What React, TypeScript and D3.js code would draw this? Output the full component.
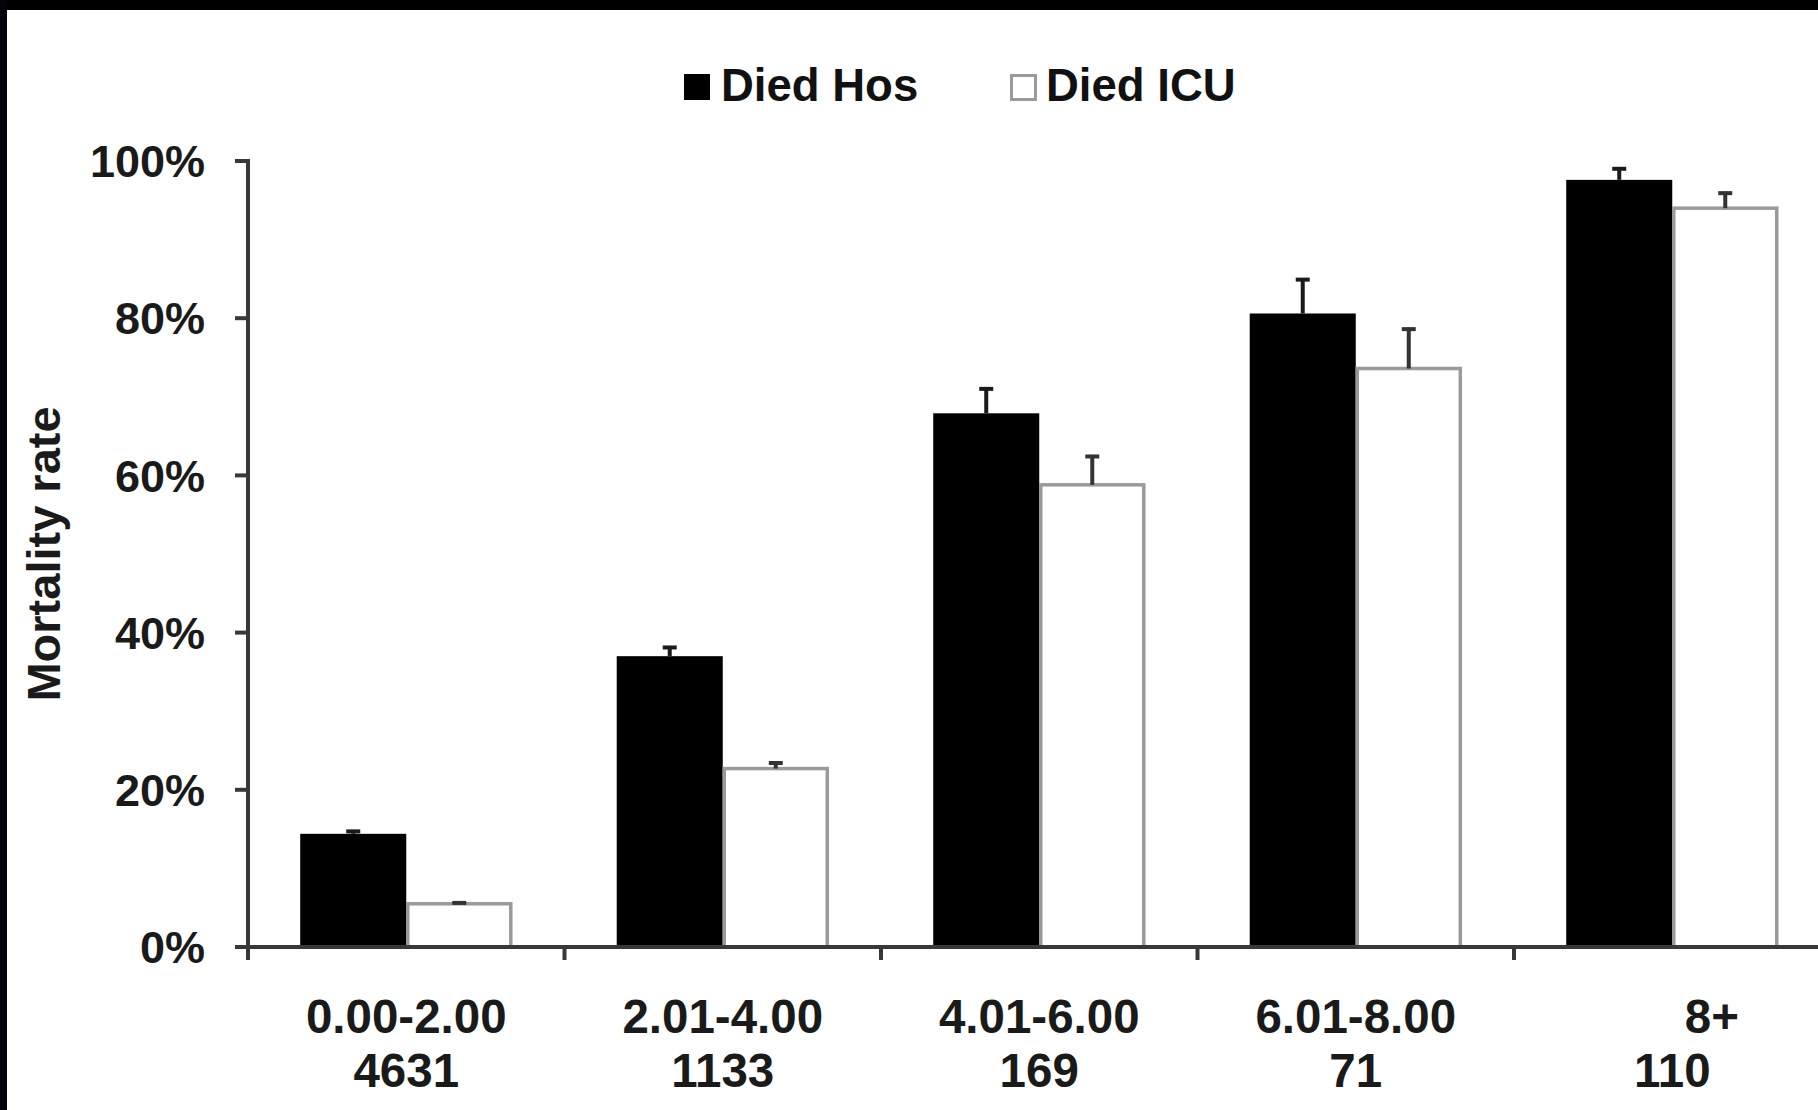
import React from "react";
import * as d3 from "d3";

// Score bands and the number of patients in each band
const bandLabels = ["0.00-2.00", "2.01-4.00", "4.01-6.00", "6.01-8.00", "\u00a0\u00a0\u00a0\u00a0\u00a0\u00a08+"];
const bandCounts = ["4631", "1133", "169", "71", "110"];

// Mortality rates (%) and upper error bar lengths (%)
const diedHos = [14.4, 37.0, 67.9, 80.6, 97.6];
const diedHosErr = [0.5, 1.3, 3.3, 4.5, 1.6];
const diedIcu = [5.5, 22.7, 58.8, 73.6, 94.0];
const diedIcuErr = [0.3, 0.9, 3.8, 5.2, 2.1];

const seriesNames = ["Died Hos", "Died ICU"];
const yTicks = [0, 20, 40, 60, 80, 100];

const W = 1818;
const H = 1110;
const FONT = "'Liberation Sans', Arial, sans-serif";

export default function App() {
  const x0 = d3.scaleBand<number>().domain(d3.range(bandLabels.length)).range([248, 1830.5]).padding(0);
  const groupW = x0.bandwidth() * 0.67;
  const x1 = d3.scaleBand<string>().domain(seriesNames).range([0, groupW]).padding(0);
  const y = d3.scaleLinear().domain([0, 100]).range([947, 161]);

  const series = [
    { name: seriesNames[0], values: diedHos, errs: diedHosErr, fill: "#000", stroke: "#222", errColor: "#1a1a1a" },
    { name: seriesNames[1], values: diedIcu, errs: diedIcuErr, fill: "#fff", stroke: "#9a9a9a", errColor: "#333" },
  ];

  const axisColor = "#383838";
  const axisX0 = 248;

  return (
    <svg width={W} height={H} style={{ position: "absolute", left: 0, top: 0, background: "#fff" }} fontFamily={FONT}>
      <rect x={0} y={0} width={W} height={H} fill="#fff" />
      {/* frame edges */}
      <rect x={0} y={0} width={W} height={10} fill="#000" />
      <rect x={0} y={0} width={7} height={H} fill="#03030e" />

      {/* legend */}
      <g fontWeight="bold" fontSize={45.5} fill="#111">
        <rect x={684} y={74} width={26} height={26} fill="#000" />
        <text x={721} y={101}>{seriesNames[0]}</text>
        <rect x={1011.5} y={75.5} width={24} height={24} fill="#fff" stroke="#9a9a9a" strokeWidth={3} />
        <text x={1046} y={101}>{seriesNames[1]}</text>
      </g>

      {/* bars */}
      {series.map((s) =>
        s.values.map((v, i) => {
          const bx = (x0(i) as number) + (x0.bandwidth() - groupW) / 2 + (x1(s.name) as number);
          const bw = x1.bandwidth();
          const isWhite = s.fill === "#fff";
          return (
            <rect
              key={s.name + i}
              x={bx + (isWhite ? 1.5 : 0)}
              y={y(v)}
              width={bw - (isWhite ? 3 : 0)}
              height={y(0) - y(v)}
              fill={s.fill}
              stroke={isWhite ? s.stroke : "none"}
              strokeWidth={isWhite ? 3.5 : 0}
            />
          );
        })
      )}

      {/* error bars (upper only) */}
      {series.map((s) =>
        s.values.map((v, i) => {
          const cx = (x0(i) as number) + (x0.bandwidth() - groupW) / 2 + (x1(s.name) as number) + x1.bandwidth() / 2;
          const top = y(v + s.errs[i]);
          return (
            <g key={"e" + s.name + i}>
              <line x1={cx} x2={cx} y1={y(v)} y2={top} stroke={s.errColor} strokeWidth={4} />
              <line x1={cx - 7} x2={cx + 7} y1={top + 1.5} y2={top + 1.5} stroke={s.errColor} strokeWidth={4} />
            </g>
          );
        })
      )}

      {/* y axis */}
      <line x1={axisX0} x2={axisX0} y1={y(100) - 2} y2={960} stroke={axisColor} strokeWidth={4} />
      {yTicks.map((t) => (
        <g key={"yt" + t}>
          <line x1={235} x2={axisX0} y1={y(t)} y2={y(t)} stroke={axisColor} strokeWidth={4} />
          <text x={205} y={y(t)} dy="0.36em" textAnchor="end" fontWeight="bold" fontSize={45} fill="#1a1a1a">
            {t + "%"}
          </text>
        </g>
      ))}

      {/* x axis */}
      <line x1={axisX0 - 12} x2={W} y1={y(0)} y2={y(0)} stroke={axisColor} strokeWidth={4} />
      {d3.range(1, bandLabels.length).map((i) => (
        <line key={"xt" + i} x1={x0(i)} x2={x0(i)} y1={y(0)} y2={960} stroke={axisColor} strokeWidth={4} />
      ))}

      {/* category labels */}
      {bandLabels.map((lab, i) => {
        const cx = (x0(i) as number) + x0.bandwidth() / 2;
        return (
          <g key={"cl" + i} fontWeight="bold" fontSize={47.5} fill="#1a1a1a" textAnchor="middle">
            <text x={cx} y={1033} style={{ whiteSpace: "pre" }}>{lab}</text>
            <text x={cx} y={1087}>{bandCounts[i]}</text>
          </g>
        );
      })}

      {/* y axis title */}
      <text
        transform="translate(60,554) rotate(-90)"
        textAnchor="middle"
        fontWeight="bold"
        fontSize={47}
        fill="#1a1a1a"
      >
        Mortality rate
      </text>
    </svg>
  );
}
